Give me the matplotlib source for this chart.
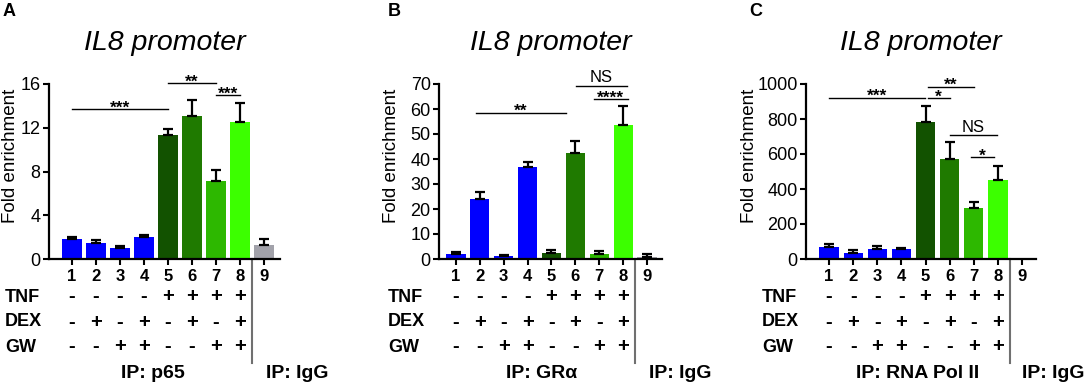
import matplotlib

matplotlib.use("Agg")

import matplotlib.pyplot as plt
import matplotlib.transforms as mtransforms
import numpy as np

plt.rcParams["font.family"] = ["Liberation Sans", "DejaVu Sans"]

W, H = 1084, 385

positions = [1, 2, 3, 4, 5, 6, 7, 8, 9]
colors = ["#0000FF"] * 4 + ["#125200", "#1F7A00", "#2DB800", "#3CFF00", "#A2A2AA"]

tnf = ["-", "-", "-", "-", "+", "+", "+", "+"]
dex = ["-", "+", "-", "+", "-", "+", "-", "+"]
gw = ["-", "-", "+", "+", "-", "-", "+", "+"]

# panel A: IP p65
a_vals = [1.82, 1.43, 0.97, 1.98, 11.3, 13.1, 7.17, 12.5, 1.28]
a_errs = [0.18, 0.33, 0.25, 0.2, 0.62, 1.45, 1.0, 1.77, 0.54]
a_sig = [(1, 5, 13.7, "***"), (5, 7, 16.05, "**"), (7, 8, 15.0, "***")]

# panel B: IP GRalpha
b_vals = [2.0, 24.2, 1.06, 36.7, 2.5, 42.6, 2.1, 53.8, 0.9]
b_errs = [0.66, 2.8, 0.4, 2.0, 1.2, 4.7, 0.96, 7.6, 1.1]
b_sig = [(1.83, 5.6, 58.6, "**"), (6.04, 8.15, 69.4, "NS"), (6.78, 8.2, 63.9, "****")]

# panel C: IP RNA Pol II
c_vals = [66, 34, 57, 57, 781, 574, 291, 452, 0]
c_errs = [21, 19, 15, 6, 95, 93, 32, 78, 0]
c_sig = [(1, 4.99, 922, "***"), (5.09, 6.0, 918, "*"), (5.09, 7.03, 985, "**"),
         (6.0, 7.96, 707, "NS"), (6.87, 7.83, 584, "*")]

panels = [
    dict(letter="A", vals=a_vals, errs=a_errs, sig=a_sig, ymax=16, yticks=[0, 4, 8, 12, 16],
         px=(49, 280), xlim=(0.04, 9.67), letter_x=9, ylab_x=11, row_x=5, ip="IP: p65",
         ip_x=153, igg_x=297, igg_ha="center"),
    dict(letter="B", vals=b_vals, errs=b_errs, sig=b_sig, ymax=70, yticks=list(range(0, 71, 10)),
         px=(439, 662), xlim=(0.29, 9.63), letter_x=394, ylab_x=392, row_x=388,
         ip="IP: GR\u03b1", ip_x=542, igg_x=680, igg_ha="center"),
    dict(letter="C", vals=c_vals, errs=c_errs, sig=c_sig, ymax=1000,
         yticks=[0, 200, 400, 600, 800, 1000],
         px=(806, 1036), xlim=(0.045, 9.58), letter_x=756, ylab_x=750, row_x=762,
         ip="IP: RNA Pol II", ip_x=918, igg_x=1022, igg_ha="left"),
]

fig = plt.figure(figsize=(W / 100, H / 100), dpi=100)

y_top, y_bot = 84, 259

for p in panels:
    x0, x1 = p["px"]
    ax = fig.add_axes([x0 / W, 1 - y_bot / H, (x1 - x0) / W, (y_bot - y_top) / H])
    errs = np.array(p["errs"])
    ax.bar(positions, p["vals"], width=0.8, color=colors, edgecolor="none", zorder=2)
    mask = errs > 0
    ax.errorbar(np.array(positions)[mask], np.array(p["vals"])[mask],
                yerr=[np.zeros(mask.sum()), errs[mask]], fmt="none", ecolor="black",
                elinewidth=1.6, capsize=3.8, capthick=1.6, zorder=3)
    ax.set_xlim(*p["xlim"])
    ax.set_ylim(0, p["ymax"])
    ax.set_yticks(p["yticks"])
    ax.set_xticks(positions)
    ax.set_xticklabels([str(i) for i in positions], fontweight="bold", fontsize=12)
    ax.tick_params(axis="y", labelsize=13, width=1.5, length=4, direction="out", pad=2)
    ax.tick_params(axis="x", width=1.5, length=4, pad=3)
    for s in ["top", "right"]:
        ax.spines[s].set_visible(False)
    for s in ["left", "bottom"]:
        ax.spines[s].set_linewidth(1.6)
    fig.text(p["ylab_x"] / W, 1 - 156 / H, "Fold enrichment",
             rotation=90, ha="center", va="center", fontsize=13.5)

    # significance brackets
    for sx1, sx2, sy, lab in p["sig"]:
        ax.plot([sx1, sx2], [sy, sy], color="black", linewidth=1, clip_on=False, zorder=4)
        if lab == "NS":
            ax.annotate(lab, ((sx1 + sx2) / 2, sy), xytext=(0, 2.5), textcoords="offset points",
                        ha="center", va="baseline", fontsize=12, annotation_clip=False)
        else:
            ax.annotate(lab, ((sx1 + sx2) / 2, sy), xytext=(0, -2.5), textcoords="offset points",
                        ha="center", va="baseline", fontsize=12.5, fontweight="bold",
                        annotation_clip=False)

    # title and panel letter
    fig.text((x0 + x1) / 2 / W, 1 - 43 / H, "IL8 promoter", ha="center", va="center",
             fontsize=20.5, style="italic")
    fig.text(p["letter_x"] / W, 1 - 11 / H, p["letter"], ha="center", va="center",
             fontsize=13, fontweight="bold")

    # treatment table
    tr = mtransforms.blended_transform_factory(ax.transData, fig.transFigure)
    for row_name, row, ry in [("TNF", tnf, 297), ("DEX", dex, 322), ("GW", gw, 347)]:
        fig.text(p["row_x"] / W, 1 - ry / H, row_name, ha="left", va="center",
                 fontsize=13, fontweight="bold")
        for i, s in enumerate(row):
            ax.text(positions[i], 1 - ry / H, s, transform=tr, ha="center", va="center",
                    fontsize=14.5, fontweight="bold")

    # separator between IP and IgG lanes
    ax.plot([8.5, 8.5], [1 - y_bot / H, 1 - 363 / H], transform=tr, color="#707070",
            linewidth=1.5, clip_on=False)
    fig.text(p["ip_x"] / W, 1 - 373 / H, p["ip"], ha="center", va="center",
             fontsize=14, fontweight="bold")
    fig.text(p["igg_x"] / W, 1 - 373 / H, "IP: IgG", ha=p["igg_ha"], va="center",
             fontsize=14, fontweight="bold")

fig.savefig("out.png", dpi=100)
